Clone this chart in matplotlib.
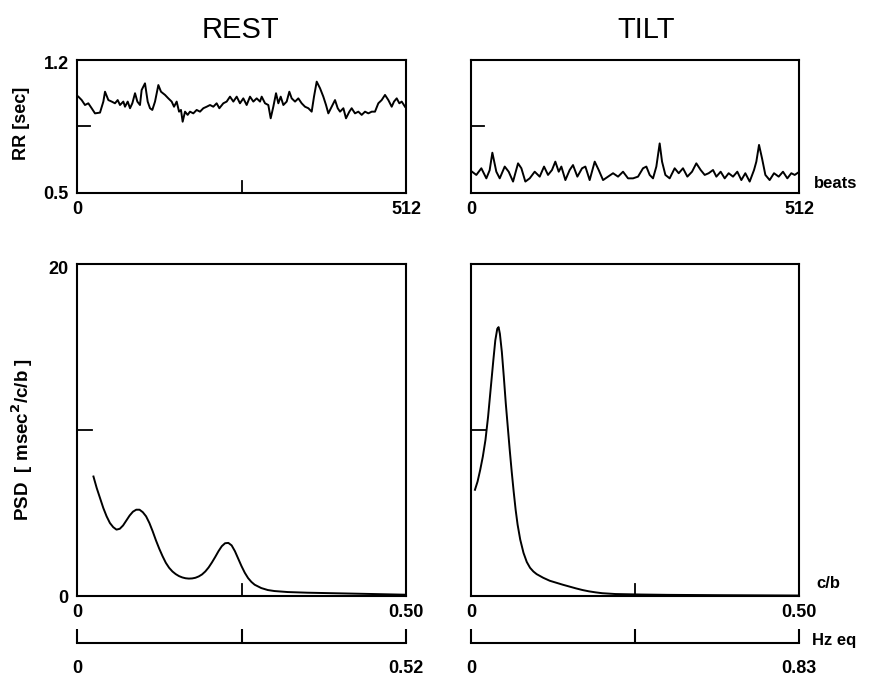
import matplotlib
matplotlib.use("Agg")
import matplotlib.pyplot as plt
import numpy as np

plt.rcParams['font.family'] = ['Liberation Sans', 'DejaVu Sans']

# RR intervals (sec), beat index vs value
rest_beat = [2.1, 7.3, 12.4, 17.6, 22.8, 28.0, 35.8, 41.0, 43.6, 48.8, 54.0, 59.1, 63.3, 66.9,
             72.1, 74.7, 78.9, 82.5, 86.1, 90.3, 93.9, 98.0, 100.6, 105.8, 110.0, 113.6, 117.2,
             121.4, 126.6, 130.7, 137.0, 142.1, 147.3, 151.0, 155.1, 158.8, 161.8, 164.4, 168.1,
             172.2, 175.8, 181.0, 186.2, 191.4, 196.6, 201.8, 207.0, 212.1, 217.3, 221.5, 227.7,
             232.9, 238.1, 243.3, 248.5, 253.6, 258.8, 264.0, 269.2, 274.4, 279.6, 284.8, 287.4,
             292.6, 297.7, 301.4, 305.5, 309.7, 313.3, 317.0, 321.1, 326.3, 330.4, 334.1, 339.3,
             344.4, 349.6, 354.8, 360.0, 365.2, 368.8, 373.0, 378.2, 383.3, 387.5, 391.1, 396.3,
             401.5, 405.7, 409.3, 414.5, 418.6, 423.8, 427.4, 432.6, 437.8, 443.0, 448.2, 453.4,
             458.6, 463.7, 468.9, 474.1, 479.3, 484.5, 489.7, 493.3, 497.5, 501.6, 505.3, 510.4]
rest_rr = [1.007, 0.989, 0.963, 0.972, 0.946, 0.919, 0.923, 0.981, 1.033, 0.989, 0.981, 0.972,
           0.989, 0.963, 0.981, 0.954, 0.981, 0.946, 0.972, 1.025, 0.981, 0.963, 1.042, 1.077,
           0.981, 0.946, 0.937, 0.981, 1.068, 1.033, 1.016, 0.998, 0.981, 0.954, 0.981, 0.928,
           0.937, 0.875, 0.928, 0.911, 0.928, 0.919, 0.937, 0.928, 0.946, 0.954, 0.963, 0.954,
           0.972, 0.946, 0.972, 0.981, 1.007, 0.981, 1.007, 0.972, 0.998, 0.963, 1.007, 0.981,
           0.998, 0.981, 1.007, 0.972, 0.963, 0.893, 0.954, 1.025, 0.972, 1.007, 0.963, 0.981,
           1.033, 0.998, 0.981, 0.998, 0.972, 0.954, 0.946, 0.928, 1.007, 1.086, 1.051, 1.007,
           0.963, 0.919, 0.954, 0.989, 0.946, 0.928, 0.946, 0.893, 0.928, 0.946, 0.919, 0.928,
           0.911, 0.928, 0.919, 0.928, 0.928, 0.972, 0.989, 1.016, 0.989, 0.954, 0.981, 0.998,
           0.972, 0.981, 0.954]

tilt_beat = [1.6, 8.3, 16.1, 23.9, 29.1, 33.3, 39.5, 44.8, 52.6, 58.8, 65.6, 73.4, 78.6, 84.8,
             91.6, 99.4, 107.2, 114.0, 120.2, 126.4, 131.6, 136.9, 141.0, 147.3, 154.0, 159.2,
             166.0, 173.3, 178.5, 185.2, 193.1, 199.3, 206.1, 213.9, 221.7, 229.5, 237.3, 245.1,
             252.9, 260.7, 268.5, 273.7, 278.9, 284.1, 289.3, 294.5, 298.2, 303.4, 310.1, 317.9,
             324.2, 330.9, 337.7, 345.0, 351.7, 358.5, 364.8, 371.0, 377.8, 383.0, 389.7, 396.0,
             402.2, 409.0, 415.7, 422.0, 428.2, 435.0, 441.8, 445.4, 449.6, 454.3, 459.5, 466.2,
             473.0, 480.3, 487.0, 493.8, 500.0, 505.3, 510.5]
tilt_rr = [0.612, 0.595, 0.630, 0.577, 0.620, 0.712, 0.612, 0.577, 0.639, 0.612, 0.560, 0.656,
           0.630, 0.560, 0.577, 0.612, 0.586, 0.639, 0.595, 0.621, 0.665, 0.612, 0.639, 0.568,
           0.621, 0.647, 0.586, 0.630, 0.639, 0.568, 0.665, 0.621, 0.568, 0.586, 0.604, 0.586,
           0.612, 0.577, 0.577, 0.586, 0.630, 0.639, 0.595, 0.577, 0.639, 0.761, 0.665, 0.595,
           0.577, 0.630, 0.604, 0.630, 0.586, 0.612, 0.656, 0.621, 0.595, 0.604, 0.621, 0.586,
           0.612, 0.577, 0.604, 0.586, 0.612, 0.568, 0.604, 0.560, 0.621, 0.665, 0.753, 0.682,
           0.595, 0.568, 0.604, 0.586, 0.612, 0.577, 0.604, 0.595, 0.607]

# power spectra (msec^2/c/b) vs frequency (cycles/beat)
rest_f = [0.025, 0.030, 0.035, 0.040, 0.045, 0.050, 0.055, 0.060, 0.065, 0.070, 0.075, 0.080,
          0.085, 0.090, 0.095, 0.100, 0.105, 0.110, 0.115, 0.120, 0.125, 0.130, 0.135, 0.140,
          0.145, 0.150, 0.155, 0.160, 0.165, 0.170, 0.175, 0.180, 0.185, 0.190, 0.195, 0.200,
          0.205, 0.210, 0.215, 0.220, 0.225, 0.230, 0.235, 0.240, 0.245, 0.250, 0.255, 0.260,
          0.265, 0.270, 0.280, 0.290, 0.300, 0.320, 0.350, 0.400, 0.450, 0.498]
rest_psd = [7.2, 6.5, 5.9, 5.3, 4.8, 4.4, 4.15, 4.0, 4.05, 4.25, 4.55, 4.85,
            5.08, 5.2, 5.2, 5.05, 4.8, 4.4, 3.9, 3.35, 2.85, 2.4, 2.0, 1.7,
            1.48, 1.32, 1.2, 1.12, 1.07, 1.05, 1.06, 1.1, 1.18, 1.3, 1.48, 1.72,
            2.02, 2.35, 2.7, 3.0, 3.18, 3.2, 3.05, 2.7, 2.25, 1.8, 1.4, 1.08,
            0.85, 0.68, 0.48, 0.36, 0.30, 0.24, 0.20, 0.16, 0.12, 0.08]

tilt_f = [0.006, 0.010, 0.014, 0.018, 0.022, 0.026, 0.030, 0.034, 0.037, 0.040, 0.042, 0.044,
          0.047, 0.050, 0.053, 0.056, 0.059, 0.062, 0.065, 0.068, 0.071, 0.075, 0.080, 0.085,
          0.090, 0.095, 0.100, 0.110, 0.120, 0.130, 0.140, 0.150, 0.160, 0.170, 0.180, 0.190,
          0.200, 0.220, 0.260, 0.300, 0.380, 0.498]
tilt_psd = [6.4, 6.9, 7.6, 8.4, 9.4, 10.8, 12.5, 14.2, 15.4, 16.1, 16.2, 15.8,
            14.7, 13.2, 11.6, 10.2, 8.8, 7.5, 6.3, 5.2, 4.3, 3.4, 2.6, 2.05,
            1.7, 1.48, 1.32, 1.1, 0.92, 0.80, 0.68, 0.57, 0.46, 0.36, 0.28, 0.22,
            0.17, 0.12, 0.09, 0.07, 0.05, 0.03]

hz_max = [0.52, 0.83]

fig = plt.figure(figsize=(8.76, 6.8), dpi=100)

lw_sp = 1.5


def frame(ax):
    for s in ax.spines.values():
        s.set_linewidth(lw_sp)
    ax.tick_params(direction='in', width=lw_sp, length=0, pad=6)
    for lab in ax.get_xticklabels() + ax.get_yticklabels():
        lab.set_fontsize(13)
        lab.set_fontweight('bold')


axes_rr = [fig.add_axes([0.0879, 0.7162, 0.3756, 0.1956]),
           fig.add_axes([0.5377, 0.7162, 0.3744, 0.1956])]
axes_psd = [fig.add_axes([0.0879, 0.1235, 0.3756, 0.4882]),
            fig.add_axes([0.5377, 0.1235, 0.3744, 0.4882])]

for i, (ax, b, v) in enumerate(zip(axes_rr, [rest_beat, tilt_beat], [rest_rr, tilt_rr])):
    ax.plot(b, v, color='black', lw=1.4)
    ax.set_xlim(0, 512)
    ax.set_ylim(0.5, 1.2)
    ax.set_xticks([0, 512])
    ax.set_xticklabels(['0', '512'])
    if i == 0:
        ax.set_yticks([0.5, 1.185])
        ax.set_yticklabels(['0.5', '1.2'])
    else:
        ax.set_yticks([])
    frame(ax)
    ax.axhline(0.85, xmin=0, xmax=0.04, color='black', lw=1.3)
    if i == 0:
        ax.axvline(256, ymin=0, ymax=0.09, color='black', lw=1.3)

for i, (ax, f, p) in enumerate(zip(axes_psd, [rest_f, tilt_f], [rest_psd, tilt_psd])):
    ax.plot(f, p, color='black', lw=1.4)
    ax.set_xlim(0, 0.5)
    ax.set_ylim(0, 20)
    ax.set_xticks([0, 0.5])
    ax.set_xticklabels(['0', '0.50'])
    if i == 0:
        ax.set_yticks([0, 19.8])
        ax.set_yticklabels(['0', '20'])
    else:
        ax.set_yticks([])
    frame(ax)
    ax.axhline(10, xmin=0, xmax=0.045, color='black', lw=1.3)
    ax.axvline(0.25, ymin=0, ymax=0.035, color='black', lw=1.3)

# Hz-equivalent frequency scales under the spectra
for ax_ref, hmax in zip(axes_psd, hz_max):
    pos = ax_ref.get_position()
    hx = fig.add_axes([pos.x0, 0.0544, pos.width, 0.0001])
    hx.set_xlim(0, hmax)
    hx.set_ylim(0, 1)
    for s in ['top', 'left', 'right']:
        hx.spines[s].set_visible(False)
    hx.spines['bottom'].set_linewidth(lw_sp)
    hx.set_yticks([])
    hx.set_xticks([0, hmax / 2, hmax])
    hx.set_xticklabels(['0', '', '%.2f' % hmax])
    hx.tick_params(direction='in', width=lw_sp, length=10, pad=12)
    for lab in hx.get_xticklabels():
        lab.set_fontsize(13)
        lab.set_fontweight('bold')

fig.text(240 / 876, 1 - 30 / 680, 'REST', fontsize=21, ha='center', va='center')
fig.text(646 / 876, 1 - 30 / 680, 'TILT', fontsize=21, ha='center', va='center')

fig.text(22 / 876, 1 - 123 / 680, 'RR [sec]', rotation=90, ha='center', va='center',
         fontsize=13, fontweight='bold')
fig.text(22 / 876, 1 - 440 / 680, 'PSD  [ msec$^\\mathbf{2}$/c/b ]', rotation=90, ha='center',
         va='center', fontsize=13.5, fontweight='bold')

fig.text(814 / 876, 1 - 184 / 680, 'beats', fontsize=12, fontweight='bold', va='center')
fig.text(816 / 876, 1 - 584 / 680, 'c/b', fontsize=12, fontweight='bold', va='center')
fig.text(812 / 876, 1 - 641 / 680, 'Hz eq', fontsize=12, fontweight='bold', va='center')

fig.savefig('out.png', dpi=100)
